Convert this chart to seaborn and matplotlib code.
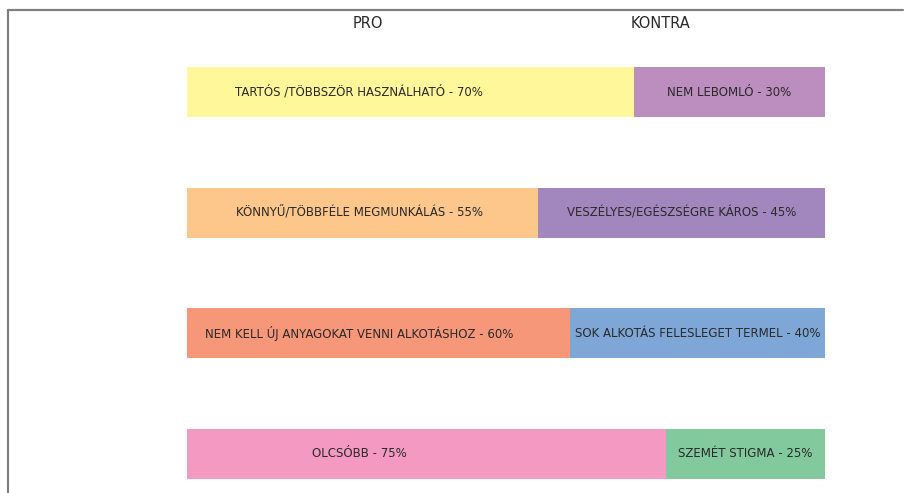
import pandas as pd
import seaborn as sns
import matplotlib.pyplot as plt
from matplotlib.lines import Line2D

# Data
pro_labels = ['TARTÓS /TÖBBSZÖR HASZNÁLHATÓ', 'KÖNNYŰ/TÖBBFÉLE MEGMUNKÁLÁS',
              'NEM KELL ÚJ ANYAGOKAT VENNI ALKOTÁSHOZ', 'OLCSÓBB']
kontra_labels = ['NEM LEBOMLÓ', 'VESZÉLYES/EGÉSZSÉGRE KÁROS',
                 'SOK ALKOTÁS FELESLEGET TERMEL', 'SZEMÉT STIGMA']
pro_values = [70, 55, 60, 75]
kontra_values = [30, 45, 40, 25]

pro_colors = ['#FFF79A', '#FDC68A', '#F7977A', '#F49AC2']
kontra_colors = ['#BC8DBF', '#A187BE', '#7EA7D8', '#82CA9D']

df = pd.DataFrame({
    'row': [str(i) for i in range(len(pro_labels))],
    'pro': pro_values,
    'kontra': kontra_values,
})
df['total'] = df['pro'] + df['kontra']

sns.set_style('white')
plt.rcParams['font.family'] = ['DejaVu Sans']

W, H = 906, 493
fig = plt.figure(figsize=(W / 100, H / 100), dpi=100)
ax = fig.add_axes([187 / W, (H - 488) / H, 638 / W, 448 / H])

# Stacked: full bar in kontra colour, pro part drawn over it
sns.barplot(data=df, x='total', y='row', hue='row', palette=kontra_colors,
            legend=False, width=0.415, linewidth=0, saturation=1, ax=ax)
sns.barplot(data=df, x='pro', y='row', hue='row', palette=pro_colors,
            legend=False, width=0.415, linewidth=0, saturation=1, ax=ax)

ax.set_xlim(0, 100)
ax.set_ylim(3.286, -0.4315)
ax.axis('off')

txt_color = '#2a2a2a'
for i, (pl, kl, pv, kv) in enumerate(zip(pro_labels, kontra_labels, pro_values, kontra_values)):
    ax.text(27, i, f'{pl} - {pv}%', ha='center', va='center',
            fontsize=8.5, color=txt_color)
    ax.text(pv + kv / 2, i, f'{kl} - {kv}%', ha='center', va='center',
            fontsize=8.5, color=txt_color)

# Headers
fig.text(368 / W, 1 - 23 / H, 'PRO', ha='center', va='center', fontsize=10.5, color=txt_color)
fig.text(660 / W, 1 - 23 / H, 'KONTRA', ha='center', va='center', fontsize=10.5, color=txt_color)

# Frame lines (top and left)
fig.add_artist(Line2D([8 / W, 903 / W], [1 - 10 / H, 1 - 10 / H], color='#808080', lw=1.6))
fig.add_artist(Line2D([8 / W, 8 / W], [0, 1 - 10 / H], color='#808080', lw=1.6))

plt.savefig('out.png', dpi=100)
